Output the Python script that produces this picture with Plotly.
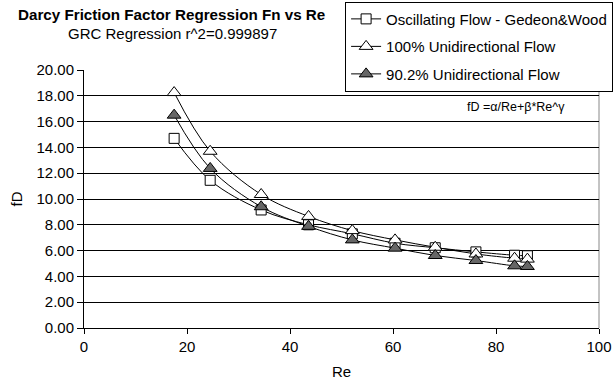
import plotly.graph_objects as go

# ---- data ----
re_vals = [17.5, 24.5, 34.4, 43.6, 52.1, 60.4, 68.2, 76.1, 83.6, 86.1]
osc_flow = [14.7, 11.45, 9.15, 8.0, 7.3, 6.57, 6.22, 5.9, 5.64, 5.6]
uni_100 = [18.25, 13.7, 10.35, 8.65, 7.55, 6.83, 6.26, 5.74, 5.41, 5.34]
uni_902 = [16.5, 12.37, 9.4, 7.88, 6.83, 6.19, 5.62, 5.23, 4.82, 4.77]

series_names = ["Oscillating Flow - Gedeon&Wood", "100% Unidirectional Flow", "90.2% Unidirectional Flow"]
y_ticks = [0, 2, 4, 6, 8, 10, 12, 14, 16, 18, 20]
x_ticks = [0, 20, 40, 60, 80, 100]

FONT = "Liberation Sans, Arial, sans-serif"

fig = go.Figure()
styles = [
    dict(symbol="square", size=10, color="white"),
    dict(symbol="triangle-up", size=12, color="white"),
    dict(symbol="triangle-up", size=12, color="#666666"),
]
for i, (name, ys, st) in enumerate(zip(series_names, [osc_flow, uni_100, uni_902], styles)):
    fig.add_trace(go.Scatter(
        x=re_vals, y=ys, name=name, mode="lines+markers",
        legendgroup=f"g{i}",
        line=dict(color="black", width=1, shape="spline", smoothing=1),
        marker=dict(symbol=st["symbol"], size=st["size"], color=st["color"],
                    line=dict(color="black", width=1)),
    ))

fig.update_layout(
    width=614, height=383,
    margin=dict(l=84, r=15, t=70, b=55, pad=0, autoexpand=False),
    paper_bgcolor="white", plot_bgcolor="white",
    font=dict(family=FONT, size=15, color="black"),
    showlegend=True,
    legend=dict(
        x=0.507, y=1.265, xanchor="left", yanchor="top",
        bgcolor="white", bordercolor="black", borderwidth=1,
        font=dict(size=15), traceorder="grouped", tracegroupgap=5,
    ),
    xaxis=dict(
        range=[0, 100], tickvals=x_ticks, ticktext=[str(v) for v in x_ticks],
        showgrid=False, zeroline=False,
        showline=True, linecolor="black", linewidth=1,
        ticks="outside", ticklen=5, tickcolor="black",
        title=dict(text="Re", standoff=12, font=dict(size=15)),
    ),
    yaxis=dict(
        range=[0, 20], tickvals=y_ticks, ticktext=[f"{v:.2f}" for v in y_ticks],
        showgrid=True, gridcolor="black", gridwidth=1, zeroline=False,
        showline=True, linecolor="black", linewidth=1,
        ticks="outside", ticklen=6, tickcolor="black",
        title=dict(text="fD", standoff=10, font=dict(size=15)),
    ),
    shapes=[dict(type="line", xref="paper", yref="paper", x0=1, x1=1, y0=0, y1=1,
                 line=dict(color="#888888", width=1), layer="below")],
    annotations=[
        dict(text="<b>Darcy Friction Factor Regression Fn vs Re</b>", xref="paper", yref="paper",
             x=0.169, y=1.217, xanchor="center", yanchor="middle", showarrow=False,
             font=dict(size=15.2)),
        dict(text="GRC Regression r^2=0.999897", xref="paper", yref="paper",
             x=0.171, y=1.143, xanchor="center", yanchor="middle", showarrow=False,
             font=dict(size=15)),
        dict(text="fD =α/Re+β*Re^γ", xref="paper", yref="paper",
             x=0.838, y=0.857, xanchor="center", yanchor="middle", showarrow=False,
             font=dict(size=12.5)),
    ],
)

fig.write_html("out.html")
